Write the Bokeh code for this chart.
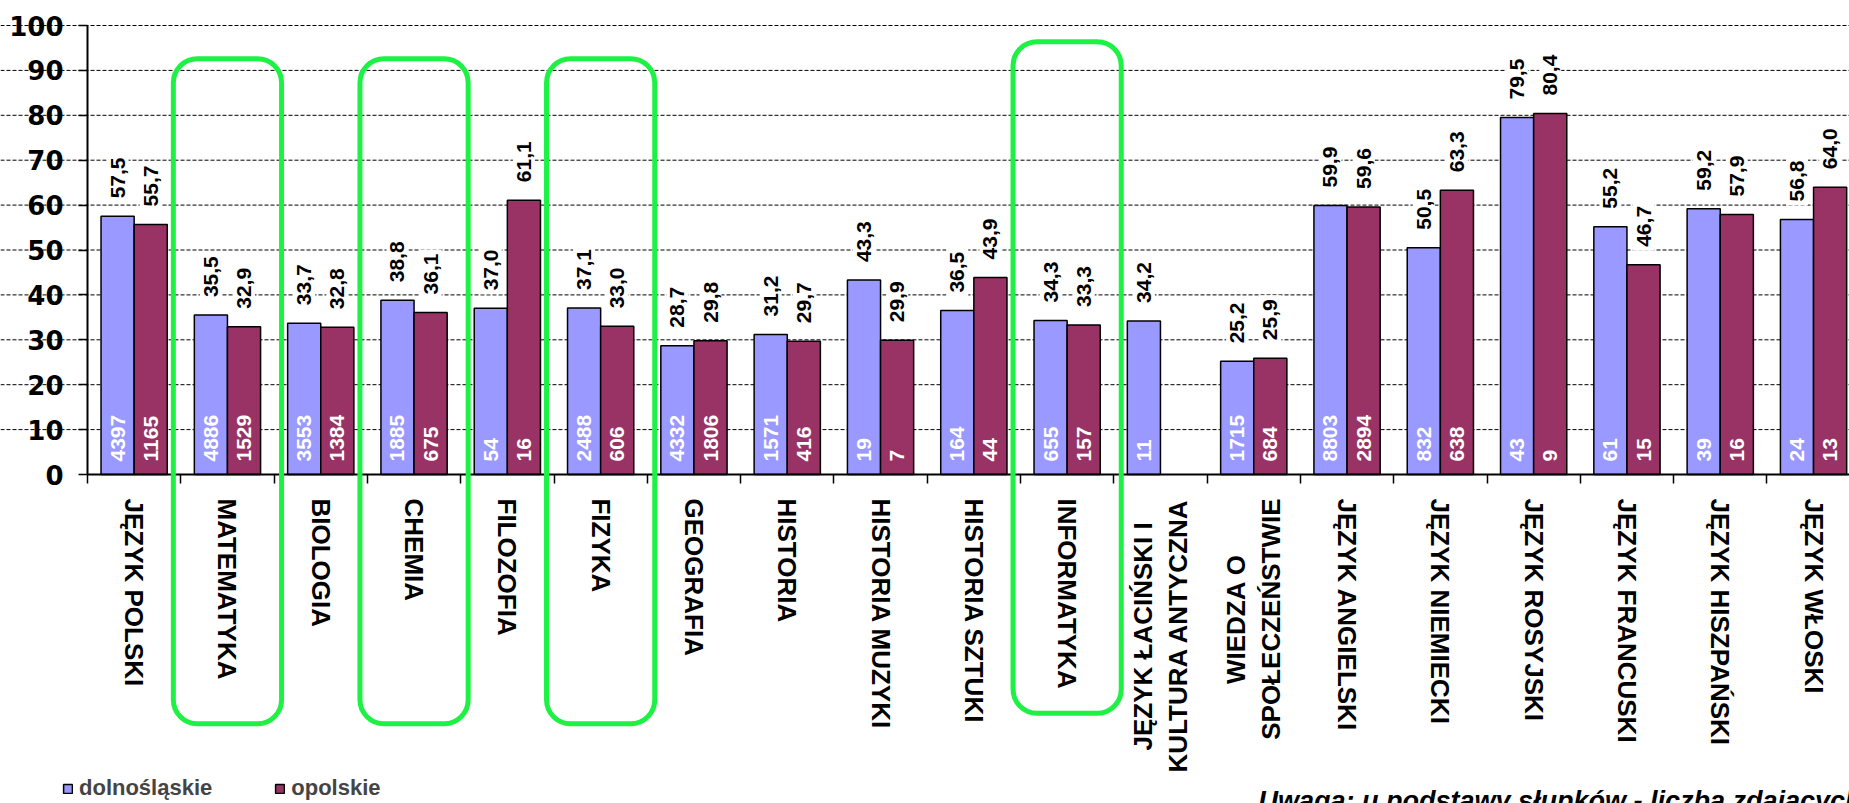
import math

from bokeh.core.properties import value
from bokeh.embed import file_html
from bokeh.models import (BoxAnnotation, ColumnDataSource, FixedTicker, Label,
                          Legend, LegendItem, Range1d)
from bokeh.plotting import figure
from bokeh.resources import INLINE

# --- data -------------------------------------------------------------------
subjects = [
    "JĘZYK POLSKI", "MATEMATYKA", "BIOLOGIA", "CHEMIA", "FILOZOFIA", "FIZYKA",
    "GEOGRAFIA", "HISTORIA", "HISTORIA MUZYKI", "HISTORIA SZTUKI",
    "INFORMATYKA", "JĘZYK ŁACIŃSKI I\nKULTURA ANTYCZNA",
    "WIEDZA O\nSPOŁECZEŃSTWIE", "JĘZYK ANGIELSKI", "JĘZYK NIEMIECKI",
    "JĘZYK ROSYJSKI", "JĘZYK FRANCUSKI", "JĘZYK HISZPAŃSKI", "JĘZYK WŁOSKI",
]
dolnoslaskie_pct = [57.5, 35.5, 33.7, 38.8, 37.0, 37.1, 28.7, 31.2, 43.3, 36.5,
                    34.3, 34.2, 25.2, 59.9, 50.5, 79.5, 55.2, 59.2, 56.8]
opolskie_pct = [55.7, 32.9, 32.8, 36.1, 61.1, 33.0, 29.8, 29.7, 29.9, 43.9,
                33.3, None, 25.9, 59.6, 63.3, 80.4, 46.7, 57.9, 64.0]
dolnoslaskie_n = [4397, 4886, 3553, 1885, 54, 2488, 4332, 1571, 19, 164,
                  655, 11, 1715, 8803, 832, 43, 61, 39, 24]
opolskie_n = [1165, 1529, 1384, 675, 16, 606, 1806, 416, 7, 44,
              157, None, 684, 2894, 638, 9, 15, 16, 13]
y_ticks = [0, 10, 20, 30, 40, 50, 60, 70, 80, 90, 100]
highlighted = ["MATEMATYKA", "CHEMIA", "FIZYKA", "INFORMATYKA"]
series_names = ["dolnośląskie", "opolskie"]
note = "Uwaga: u podstawy słupków - liczba zdających"

# --- styling ----------------------------------------------------------------
BLUE = "#9999FF"
MAROON = "#993366"
GREEN = "#1DF244"
SANS = "Liberation Sans"
CAT_SIZE = 26          # px, subject names
VAL_SIZE = 21          # px, bar labels
LABEL_GAP = 24         # px between x axis line and subject names

W, H = 1849, 803
AXIS_X, AXIS_Y, TOP_Y = 87, 474, 25          # screen px of x=0, y=0, y=100
cat_px = 93.3
y_px = (AXIS_Y - TOP_Y) / 100.0

# advance widths (em) of bold sans capitals, used to centre two-line names
CAP_EM = {"A": .722, "C": .722, "D": .722, "E": .667, "I": .278, "J": .556,
          "K": .722, "L": .611, "N": .722, "O": .778, "P": .667, "R": .722,
          "S": .667, "T": .611, "U": .722, "W": .944, "Y": .667, "Z": .611,
          "Ę": .667, "Ł": .611, "Ń": .722, " ": .278}

n = len(subjects)
centers = [i + 0.5 for i in range(n)]
bar_w = 0.355
shift = bar_w / 2


def pct_text(v):
    return f"{v:.1f}".replace(".", ",")


def text_px(t, size):
    return sum(CAP_EM.get(ch, 0.7) for ch in t) * size


def series_source(pcts, counts, offset):
    rows = [(c + offset, v, pct_text(v), str(k))
            for c, v, k in zip(centers, pcts, counts) if v is not None]
    return ColumnDataSource(dict(
        x=[r[0] for r in rows], top=[r[1] for r in rows],
        pct=[r[2] for r in rows], cnt=[r[3] for r in rows]))


src_d = series_source(dolnoslaskie_pct, dolnoslaskie_n, -shift)
src_o = series_source(opolskie_pct, opolskie_n, shift)

# the frame covers the whole canvas; axes sit at x=0 / y=0 inside it
x_range = Range1d(-AXIS_X / cat_px, (W - AXIS_X) / cat_px)
y_range = Range1d(-(H - AXIS_Y) / y_px, 100 + TOP_Y / y_px)

p = figure(width=W, height=H, output_backend="svg", toolbar_location=None,
           x_range=x_range, y_range=y_range,
           min_border_left=0, min_border_right=0, min_border_top=0,
           min_border_bottom=0)
p.outline_line_color = None
p.background_fill_color = "white"
p.border_fill_color = "white"
p.grid.visible = False

# dashed horizontal gridlines
grid_vals = y_ticks[1:]
p.segment(x0=[x_range.start] * len(grid_vals), x1=[x_range.end] * len(grid_vals),
          y0=grid_vals, y1=grid_vals, line_color="black", line_width=1,
          line_dash="4 2")

# bars
r_d = p.vbar(x="x", top="top", width=bar_w, source=src_d, fill_color=BLUE,
             line_color="black", line_width=1.5)
r_o = p.vbar(x="x", top="top", width=bar_w, source=src_o, fill_color=MAROON,
             line_color="black", line_width=1.5)

# percentage labels above bars (white boxes knock out the grid)
for src in (src_d, src_o):
    p.text(x="x", y="top", text="pct", source=src, angle=math.pi / 2,
           text_align="left", text_baseline="middle", y_offset=-14,
           text_font=value(SANS), text_font_style="bold",
           text_font_size=f"{VAL_SIZE}px", text_color="black",
           background_fill_color="white", padding=4)

# number of candidates at the base of each bar
for src in (src_d, src_o):
    p.text(x="x", y=0, text="cnt", source=src, angle=math.pi / 2,
           text_align="left", text_baseline="middle", y_offset=-13,
           text_font=value(SANS), text_font_style="bold",
           text_font_size=f"{VAL_SIZE}px", text_color="white")

# x axis at y=0: single-line subject names as tick labels
xa = p.xaxis[0]
xa.fixed_location = 0
xa.bounds = (0, n)
xa.ticker = FixedTicker(ticks=centers, minor_ticks=list(range(n + 1)))
xa.major_label_overrides = {c: (s if "\n" not in s else "")
                            for c, s in zip(centers, subjects)}
xa.major_label_orientation = "vertical"
xa.major_label_text_font = SANS
xa.major_label_text_font_style = "bold"
xa.major_label_text_font_size = f"{CAT_SIZE}px"
xa.major_label_text_color = "black"
xa.major_tick_out = 0
xa.major_tick_in = 0
xa.minor_tick_out = 9
xa.minor_tick_in = 0
xa.major_label_standoff = LABEL_GAP - xa.minor_tick_out
xa.axis_line_width = 2
xa.axis_line_color = "black"
xa.minor_tick_line_color = "black"
xa.minor_tick_line_width = 1.5

# two-line subject names: lines side by side, each centred on the longest
ml_x, ml_text, ml_dx, ml_dy = [], [], [], []
for c, s in zip(centers, subjects):
    lines = s.split("\n")
    if len(lines) < 2:
        continue
    longest = max(text_px(t, CAT_SIZE) for t in lines)
    for k, t in enumerate(lines):
        ml_x.append(c)
        ml_text.append(t)
        ml_dx.append((k - (len(lines) - 1) / 2) * 35)
        ml_dy.append(LABEL_GAP + (longest - text_px(t, CAT_SIZE)) / 2)
p.text(x=ml_x, y=[0] * len(ml_x), text=ml_text, x_offset=ml_dx, y_offset=ml_dy,
       angle=math.pi / 2, text_align="right", text_baseline="middle",
       text_font=value(SANS), text_font_style="bold",
       text_font_size=f"{CAT_SIZE}px", text_color="black")

# y axis at x=0
ya = p.yaxis[0]
ya.fixed_location = 0
ya.bounds = (0, 100)
ya.ticker = FixedTicker(ticks=y_ticks)
ya.major_label_text_font = "DejaVu Sans"
ya.major_label_text_font_style = "bold"
ya.major_label_text_font_size = "26px"
ya.major_label_text_color = "black"
ya.major_label_standoff = 15
ya.major_tick_out = 9
ya.major_tick_in = 0
ya.minor_tick_out = 0
ya.minor_tick_in = 0
ya.axis_line_width = 2
ya.major_tick_line_width = 1.5

# highlighted subjects framed with rounded green boxes
for name in highlighted:
    c = centers[subjects.index(name)]
    top, bottom = (96.4, -53.2) if name == "INFORMATYKA" else (92.6, -55.5)
    p.add_layout(BoxAnnotation(left=c - 0.58, right=c + 0.58, top=top,
                               bottom=bottom, fill_alpha=0, line_alpha=1,
                               line_color=GREEN, line_width=5,
                               border_radius=24))

# legend at the bottom left
legend = Legend(items=[LegendItem(label=series_names[0], renderers=[r_d]),
                       LegendItem(label=series_names[1], renderers=[r_o])],
                orientation="horizontal", location=(62, 2),
                glyph_width=11, glyph_height=11, label_standoff=6,
                spacing=62, padding=0, margin=0, border_line_color=None,
                background_fill_alpha=0, label_text_font=SANS,
                label_text_font_style="bold", label_text_font_size="22px",
                label_height=22)
p.add_layout(legend)

p.add_layout(Label(x=12.55, y=-72.7, text=note, text_font=SANS,
                   text_font_style="bold italic", text_font_size="27px",
                   text_baseline="middle", text_color="black"))

open("out.html", "w").write(file_html(p, INLINE))
